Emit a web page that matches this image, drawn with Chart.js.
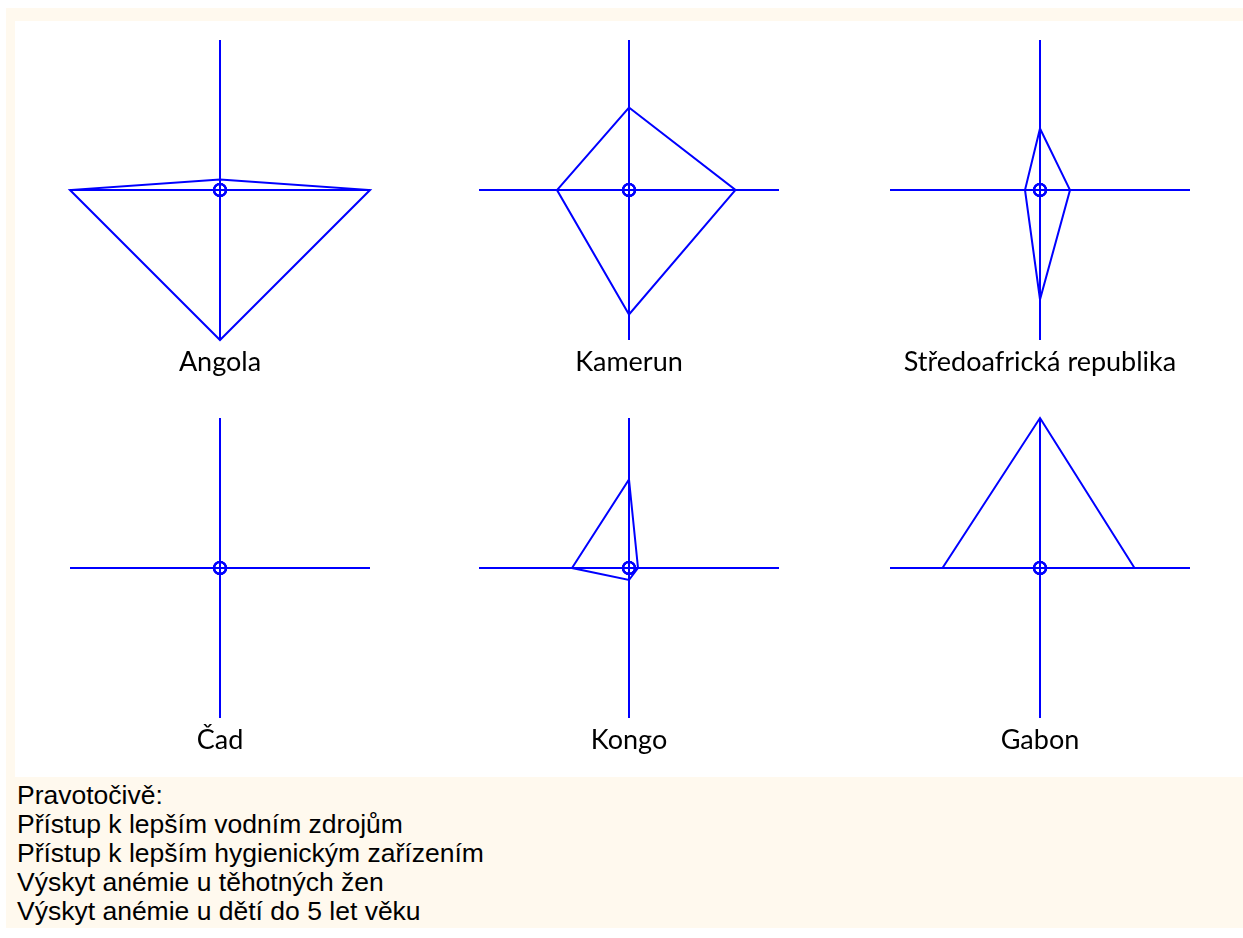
<!DOCTYPE html>
<html>
<head>
<meta charset="utf-8">
<script src="https://cdn.jsdelivr.net/npm/chart.js@4.4.1/dist/chart.umd.min.js"></script>
<style>
  body { margin: 0; width: 1243px; height: 938px; overflow: hidden; position: relative; background: #fff; }
  #frame { position: absolute; left: 6px; top: 8px; width: 1240px; height: 920px; background: #fff9ee; }
  #panel { position: absolute; left: 15px; top: 21px; width: 1230px; height: 756px; background: #fff; }
  .cell { position: absolute; width: 410px; height: 350px; }
  #legend { position: absolute; left: 17px; top: 781px; font: 26.5px "Liberation Sans", Arial, sans-serif; line-height: 29px; color: #000; }
</style>
</head>
<body>
<div id="frame"></div>
<div id="panel"></div>
<div class="cell" style="left:15px;top:30px"><canvas id="c0" width="410" height="350"></canvas></div>
<div class="cell" style="left:424px;top:30px"><canvas id="c1" width="410" height="350"></canvas></div>
<div class="cell" style="left:835px;top:30px"><canvas id="c2" width="410" height="350"></canvas></div>
<div class="cell" style="left:15px;top:408px"><canvas id="c3" width="410" height="350"></canvas></div>
<div class="cell" style="left:424px;top:408px"><canvas id="c4" width="410" height="350"></canvas></div>
<div class="cell" style="left:835px;top:408px"><canvas id="c5" width="410" height="350"></canvas></div>
<div id="legend"></div>

<script>
// axes, clockwise from the top
const indicators = [
  "Přístup k lepším vodním zdrojům",
  "Přístup k lepším hygienickým zařízením",
  "Výskyt anémie u těhotných žen",
  "Výskyt anémie u dětí do 5 let věku"
]
const countries = ["Angola", "Kamerun", "Středoafrická republika", "Čad", "Kongo", "Gabon"]

// share of the axis length (0-100), same order as indicators
const angola = [7, 100, 100, 100]
const kamerun = [55, 71, 83, 48]
const sar = [41, 20, 73, 10]
const cad = [0, 0, 73, 0]
const kongo = [59, 6, 8, 38]
const gabon = [100, 63, 0, 65]
const values = [angola, kamerun, sar, cad, kongo, gabon]

const BLUE = "rgb(0,0,255)"

document.getElementById("legend").innerHTML =
  ["Pravotočivě:"].concat(indicators).map(t => "<div>" + t + "</div>").join("")

countries.forEach((name, i) => {
  const ctx = document.getElementById("c" + i).getContext("2d")
  new Chart(ctx, {
    type: "radar",
    data: {
      labels: indicators,
      datasets: [
        {
          data: values[i],
          borderColor: BLUE,
          borderWidth: 2,
          backgroundColor: "transparent",
          fill: false,
          pointRadius: 0,
        },
        {
          // small ring at the origin
          data: indicators.map(() => 0),
          showLine: false,
          pointRadius: 6,
          pointBorderWidth: 2,
          pointBorderColor: BLUE,
          pointBackgroundColor: "transparent",
        },
      ],
    },
    options: {
      responsive: false,
      animation: false,
      layout: { padding: { top: 10, bottom: 5, left: 55, right: 55 } },
      scales: {
        r: {
          min: 0,
          max: 100,
          ticks: { display: false },
          grid: { display: false },
          angleLines: { color: BLUE, lineWidth: 2 },
          pointLabels: { display: false },
        },
      },
      plugins: {
        legend: { display: false },
        tooltip: { enabled: false },
        title: {
          display: true,
          text: name,
          position: "bottom",
          color: "#000",
          font: { family: "Lato", size: 27, weight: "normal", lineHeight: "30px" },
          padding: { top: 7, bottom: -2 },
        },
      },
    },
  })
})
</script>
</body>
</html>
